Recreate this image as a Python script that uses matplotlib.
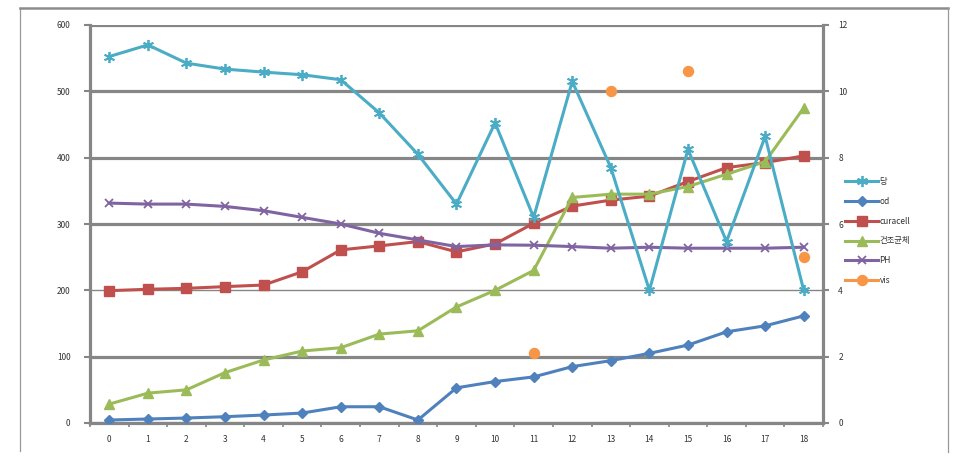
import numpy as np
import matplotlib
matplotlib.use("Agg")
import matplotlib.pyplot as plt
from matplotlib.lines import Line2D

plt.rcParams['font.family'] = ['Noto Sans CJK KR', 'DejaVu Sans']

x = list(range(19))
x_labels = [str(i) for i in x]

# right-axis series
sugar = [11.05, 11.4, 10.85, 10.67, 10.58, 10.5, 10.35, 9.35, 8.1, 6.6,
         9.05, 6.2, 10.3, 7.7, 4.0, 8.25, 5.47, 8.64, 4.0]
od = [0.09, 0.12, 0.15, 0.19, 0.24, 0.30, 0.49, 0.49, 0.09, 1.06,
      1.25, 1.39, 1.70, 1.88, 2.10, 2.35, 2.75, 2.93, 3.23]
dcw = [0.57, 0.90, 1.00, 1.52, 1.90, 2.17, 2.27, 2.68, 2.78, 3.50,
       4.00, 4.60, 6.80, 6.90, 6.90, 7.13, 7.50, 7.88, 9.50]
ph = [6.63, 6.60, 6.60, 6.53, 6.40, 6.20, 6.00, 5.72, 5.52, 5.32,
      5.37, 5.36, 5.32, 5.27, 5.30, 5.27, 5.27, 5.27, 5.30]
# left-axis series
curacell = [199.5, 201.6, 203, 205.6, 208, 228, 261, 267, 273.5, 258,
            270, 301, 327, 336, 342, 364, 385, 392.6, 402.7]
vis = [np.nan] * 11 + [106, np.nan, 500, np.nan, 531, np.nan, np.nan, 250]

left_ticks = [0, 100, 200, 300, 400, 500, 600]
left_labels = ["0", "100", "200", "300", "400", "500", "600"]
right_ticks = [0, 2, 4, 6, 8, 10, 12]
right_labels = ["0", "2", "4", "6", "8", "10", "12"]

names = ["당", "od", "curacell", "건조균체", "PH", "vis"]

C_SUGAR = "#4BACC6"
C_OD = "#4F81BD"
C_CURA = "#C0504D"
C_DCW = "#9BBB59"
C_PH = "#8064A2"
C_VIS = "#F79646"
GRAY = "#868686"

fig = plt.figure(figsize=(9.58, 4.74), dpi=100)
ax = fig.add_axes([90/958, 1-423/474, (823-90)/958, (423-25)/474])
ax2 = ax.twinx()

lw = 2.2
h_cura, = ax.plot(x, curacell, color=C_CURA, lw=lw, marker='s', ms=6.5, zorder=3)
h_vis, = ax.plot(x, vis, color=C_VIS, lw=0, marker='o', ms=7.2, zorder=3)
h_od, = ax2.plot(x, od, color=C_OD, lw=lw, marker='D', ms=5, zorder=3)
h_dcw, = ax2.plot(x, dcw, color=C_DCW, lw=lw, marker='^', ms=7, zorder=3)
h_ph, = ax2.plot(x, ph, color=C_PH, lw=lw, marker='x', ms=6, mew=1.3, zorder=3)
h_sug, = ax2.plot(x, sugar, color=C_SUGAR, lw=lw, marker=(6, 2, 0), ms=8, mew=1.3, zorder=4)

ax.set_xlim(-0.5, 18.5)
ax.set_ylim(0, 600)
ax2.set_ylim(0, 12)
ax.set_yticks(left_ticks)
ax.set_yticklabels(left_labels)
ax2.set_yticks(right_ticks)
ax2.set_yticklabels(right_labels)
ax.set_xticks(x)
ax.set_xticklabels(x_labels)
ax.set_xticks(np.arange(-0.5, 19, 1), minor=True)

ax.grid(axis='y', color=GRAY, lw=2.3)
ax.set_axisbelow(True)
gl = ax.get_ygridlines()
gl[2].set_linewidth(1.0)

for a in (ax, ax2):
    for s in a.spines.values():
        s.set_visible(False)
    a.patch.set_visible(False)
ax.spines['left'].set_visible(True)
ax.spines['left'].set_color(GRAY)
ax.spines['left'].set_linewidth(2.3)
ax.spines['bottom'].set_visible(True)
ax.spines['bottom'].set_color(GRAY)
ax.spines['bottom'].set_linewidth(2.3)
ax2.spines['right'].set_visible(True)
ax2.spines['right'].set_color(GRAY)
ax2.spines['right'].set_linewidth(2.3)

tkw = dict(labelsize=6, labelcolor='#333333', color=GRAY)
ax.tick_params(axis='y', length=4, width=1.5, pad=10, **tkw)
ax.tick_params(axis='x', which='major', length=0, pad=9, **tkw)
ax.tick_params(axis='x', which='minor', length=3, width=1.2, color=GRAY)
ax2.tick_params(axis='y', length=4, width=1.5, pad=7, **tkw)

handles = [h_sug, h_od, h_cura, h_dcw, h_ph, h_vis]
leg_handles = []
for h in handles:
    leg_handles.append(Line2D([], [], color=h.get_color(), lw=lw, marker=h.get_marker(),
                              ms=h.get_markersize(), mew=h.get_markeredgewidth()))
fig.legend(leg_handles, names, loc='upper left', bbox_to_anchor=(845/958, 1-177/474),
           frameon=False, fontsize=6, handlelength=4.0, handletextpad=0.15,
           labelspacing=1.3, borderpad=0, borderaxespad=0, labelcolor='#333333')

# outer chart frame
fig.add_artist(Line2D([20/958, 20/958], [1-451/474, 1-8/474], color='#999999', lw=0.9,
                      transform=fig.transFigure))
fig.add_artist(Line2D([20/958, 948/958], [1-8/474, 1-8/474], color='#8c8c8c', lw=1.8,
                      transform=fig.transFigure))
fig.add_artist(Line2D([948/958, 948/958], [1-452/474, 1-8/474], color='#999999', lw=0.9,
                      transform=fig.transFigure))

fig.savefig("out.png", dpi=100)
